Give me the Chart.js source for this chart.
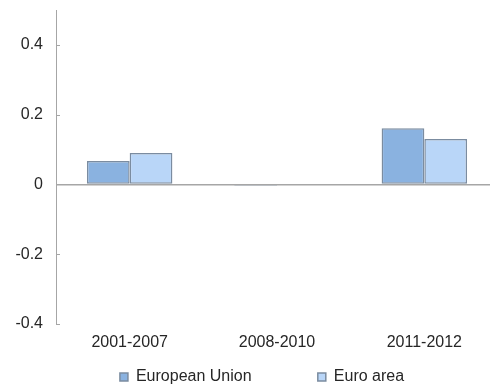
<!DOCTYPE html>
<html>
<head>
<meta charset="utf-8">
<script src="https://cdn.jsdelivr.net/npm/chart.js@4.4.0/dist/chart.umd.min.js"></script>
<style>
  html, body { margin: 0; padding: 0; background: #fff; overflow: hidden; }
</style>
</head>
<body>
<canvas id="myChart" width="498" height="385"></canvas>
<script>
const categories = ['2001-2007', '2008-2010', '2011-2012'];
const euValues = [0.067, -0.004, 0.161];
const euroAreaValues = [0.090, 0.002, 0.130];
const yTicks = [-0.4, -0.2, 0, 0.2, 0.4];

const textColor = '#262626';
const axisGray = '#a6a6a6';
const fontFamily = '"Liberation Sans", Arial, sans-serif';

// small tick marks on the inside of the y axis, like the original
const innerTicks = {
  id: 'innerTicks',
  afterDraw(chart) {
    const y = chart.scales.y;
    const c = chart.ctx;
    c.save();
    c.strokeStyle = axisGray;
    c.lineWidth = 1;
    yTicks.forEach(v => {
      const py = Math.round(y.getPixelForValue(v)) + 0.5;
      c.beginPath();
      c.moveTo(y.right, py);
      c.lineTo(y.right + 4, py);
      c.stroke();
    });
    c.restore();
  }
};

// nudge the legend to the right, it is not centred on the canvas
const legendShift = {
  id: 'legendShift',
  afterLayout(chart) {
    chart.legend.left += 13;
    chart.legend.right += 13;
  }
};

const ctx = document.getElementById('myChart');

new Chart(ctx, {
  type: 'bar',
  data: {
    labels: categories,
    datasets: [{
      label: 'European Union' + ' '.repeat(14),
      data: euValues,
      backgroundColor: '#8AB2E0',
      borderColor: '#7b8ca0',
      borderWidth: 1.5,
      borderSkipped: false,
      barPercentage: 1,
      categoryPercentage: 0.58
    }, {
      label: 'Euro area',
      data: euroAreaValues,
      backgroundColor: '#B9D6F8',
      borderColor: '#7b8ca0',
      borderWidth: 1.5,
      borderSkipped: false,
      barPercentage: 1,
      categoryPercentage: 0.58
    }]
  },
  options: {
    responsive: false,
    animation: false,
    devicePixelRatio: 1,
    layout: { padding: { top: 10, right: 0, left: 0, bottom: -10 } },
    plugins: {
      legend: {
        position: 'bottom',
        labels: {
          boxWidth: 8,
          boxHeight: 8,
          padding: 4,
          color: textColor,
          font: { size: 16, family: fontFamily }
        }
      },
      tooltip: { enabled: false }
    },
    scales: {
      x: {
        afterFit: scale => { scale.height = 41; },
        grid: { display: false, drawTicks: false },
        border: { display: false },
        ticks: {
          color: textColor,
          padding: 9,
          font: { size: 16, family: fontFamily }
        }
      },
      y: {
        min: -0.4,
        max: 0.5,
        afterBuildTicks: scale => { scale.ticks = yTicks.map(v => ({ value: v })); },
        afterFit: scale => {
          scale.width = 56;
          scale.paddingTop = 0;
          scale.paddingBottom = 0;
        },
        grid: {
          drawTicks: false,
          color: c => (c.tick && c.tick.value === 0 ? axisGray : 'rgba(0,0,0,0)'),
          lineWidth: c => (c.tick && c.tick.value === 0 ? 1.5 : 0)
        },
        border: { display: true, color: axisGray, width: 1 },
        ticks: {
          color: textColor,
          padding: 13,
          font: { size: 16, family: fontFamily },
          callback: v => (v === 0 ? '0' : v.toFixed(1))
        }
      }
    }
  },
  plugins: [innerTicks, legendShift]
});
</script>
</body>
</html>
